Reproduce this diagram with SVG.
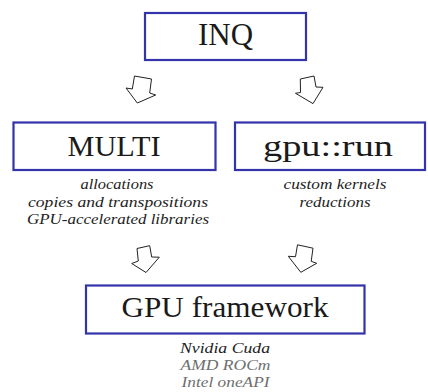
<svg xmlns="http://www.w3.org/2000/svg" width="428" height="392" viewBox="0 0 428 392">
<style>
text{font-family:"Liberation Serif","Times New Roman",Times,"Nimbus Roman","Nimbus Roman No9 L","Noto Serif","DejaVu Serif",FreeSerif,Georgia,serif}
.box{fill:#fff;stroke:#3333aa;stroke-width:2.2}
.title{fill:#1a1a1a;text-anchor:middle}
.note{font-style:italic;font-size:14.5px;fill:#222;text-anchor:middle}
.gray{fill:#6e6e6e}
.arrow{fill:#fff;stroke:#222;stroke-width:1;stroke-linejoin:miter}
</style>
<rect width="428" height="392" fill="#fff"/>
<g id="inq">
<rect class="box" x="145" y="13" width="161" height="47"/>
<text class="title" x="225.5" y="45" font-size="31">INQ</text>
</g>
<g id="multi">
<rect class="box" x="13.5" y="122.5" width="202" height="47.5"/>
<text class="title" x="114" y="155.5" font-size="28.5" textLength="93" lengthAdjust="spacingAndGlyphs">MULTI</text>
<text class="note" x="117" y="189" textLength="73" lengthAdjust="spacingAndGlyphs">allocations</text>
<text class="note" x="118" y="206.5" textLength="180" lengthAdjust="spacingAndGlyphs">copies and transpositions</text>
<text class="note" x="118" y="224" textLength="182" lengthAdjust="spacingAndGlyphs">GPU-accelerated libraries</text>
</g>
<g id="gpurun">
<rect class="box" x="235" y="122.5" width="190" height="47.5"/>
<text class="title" x="328" y="155.5" font-size="28.5" textLength="130" lengthAdjust="spacingAndGlyphs">gpu::run</text>
<text class="note" x="335" y="189" textLength="103" lengthAdjust="spacingAndGlyphs">custom kernels</text>
<text class="note" x="335" y="207" textLength="71" lengthAdjust="spacingAndGlyphs">reductions</text>
</g>
<g id="gpuframework">
<rect class="box" x="86" y="285.5" width="278.5" height="48"/>
<text class="title" x="225" y="316.5" font-size="30" textLength="207" lengthAdjust="spacingAndGlyphs">GPU framework</text>
<text class="note" x="225" y="353" textLength="90" lengthAdjust="spacingAndGlyphs">Nvidia Cuda</text>
<text class="note gray" x="225.5" y="369.5" textLength="90" lengthAdjust="spacingAndGlyphs">AMD ROCm</text>
<text class="note gray" x="225.5" y="386.5" textLength="88" lengthAdjust="spacingAndGlyphs">Intel oneAPI</text>
</g>
<g id="connectors">
<polygon class="arrow" points="134.5,76 151.5,79 149.7,93 155.7,95 137.3,103 126,88 132.3,89"/>
<polygon class="arrow" points="300.3,79 314,76 316,87 323,87.3 313,103.6 295.5,93.3 300.5,92.5"/>
<polygon class="arrow" points="137,248.5 149.7,245.7 151.7,257 159.3,257.2 146,272.5 131.7,263.5 138.3,261"/>
<polygon class="arrow" points="297.5,244.8 313,248.2 311.2,261.3 316.7,263.3 300.8,272.3 288.3,256.3 295.5,256.7"/>
</g>
</svg>
